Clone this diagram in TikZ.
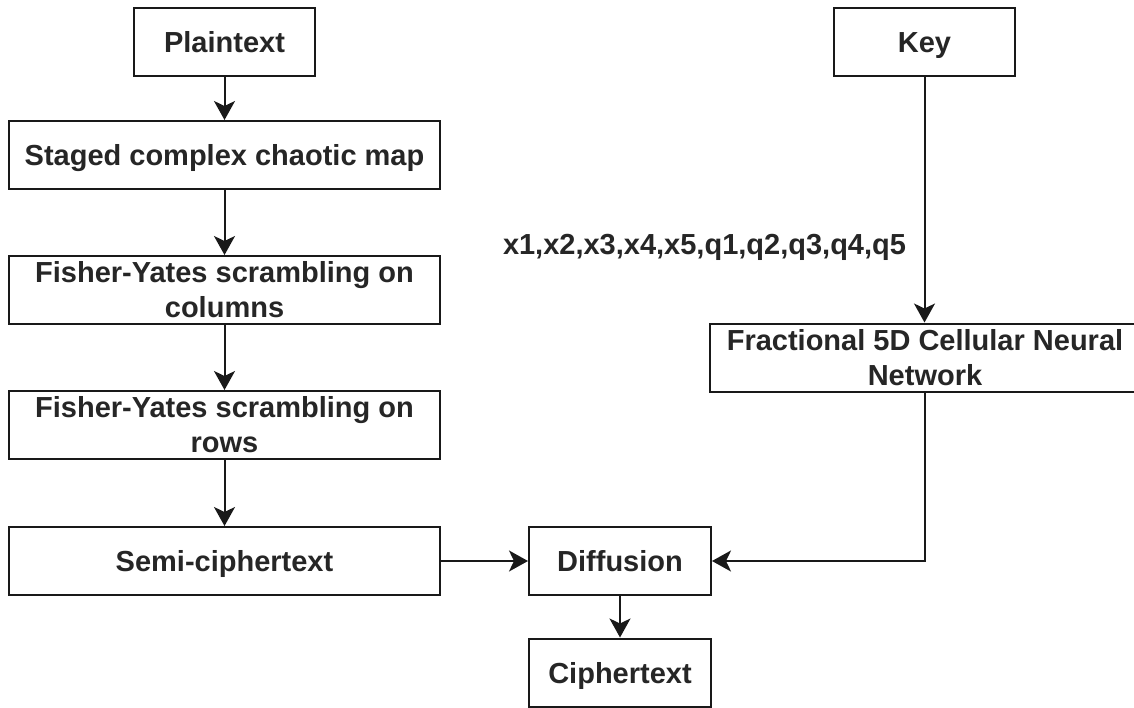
\documentclass[tikz,border=0pt]{standalone}
\usepackage{fontspec}
\setmainfont{Liberation Sans}
\usetikzlibrary{arrows.meta}
\begin{document}
\begin{tikzpicture}[x=1pt,y=-1pt,
  every node/.style={font=\bfseries\fontsize{29}{35}\selectfont, text=black!85},
  box/.style={draw=black!90, line width=2pt, rectangle, inner sep=0pt, align=center, minimum height=68pt},
  oneline/.style={text height=21pt, text depth=0pt},
  flow/.style={draw=black!90, line width=2pt, -{Stealth[length=19pt,width=21pt,inset=5pt]}},
  lbl/.style={inner sep=0pt}
]
\clip (0,0) rectangle (1134,707);
\fill[white] (0,0) rectangle (1134,707);

% left column
\node[box, oneline, minimum width=181pt] (plain) at (224.5,42) {Plaintext};
\node[box, oneline, minimum width=431pt] (staged) at (224.5,155) {Staged complex chaotic map};
\node[box, minimum width=431pt] (fycol) at (224.5,290) {Fisher-Yates scrambling on\\columns};
\node[box, minimum width=431pt] (fyrow) at (224.5,425) {Fisher-Yates scrambling on\\rows};
\node[box, oneline, minimum width=431pt] (semi) at (224.5,561) {Semi-ciphertext};

% key branch
\node[box, oneline, minimum width=181pt] (key) at (924.5,42) {Key};
\node[lbl] (params) at (704.5,247) {x1,x2,x3,x4,x5,q1,q2,q3,q4,q5};
\node[box, minimum width=430pt] (cnn) at (925,357.5) {Fractional 5D Cellular Neural\\Network};

% output stage
\node[box, oneline, minimum width=182pt] (diff) at (620,561) {Diffusion};
\node[box, oneline, minimum width=182pt] (cipher) at (620,672.5) {Ciphertext};

% connectors
\draw[flow] (plain) -- (staged);
\draw[flow] (staged) -- (fycol);
\draw[flow] (fycol) -- (fyrow);
\draw[flow] (fyrow) -- (semi);
\draw[flow] (semi) -- (diff);
\draw[flow] (key.south) -- (key.south |- cnn.north);
\draw[flow] (key.south |- cnn.south) |- (diff.east);
\draw[flow] (diff) -- (cipher);
\end{tikzpicture}
\end{document}
